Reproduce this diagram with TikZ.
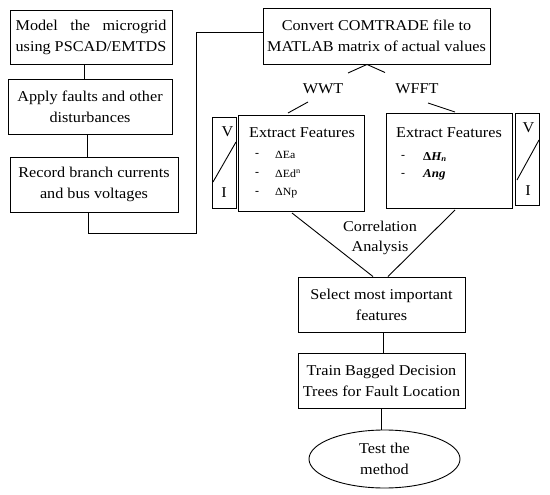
\documentclass[tikz,border=0pt]{standalone}
\usepackage{fontspec}
\setmainfont{Liberation Serif}[FakeStretch=1.08]
\usetikzlibrary{shapes.geometric}
\begin{document}
\begin{tikzpicture}[x=1pt,y=-1pt,
  box/.style={draw,line width=0.9pt,inner sep=0pt,align=center,font=\fontsize{15}{21}\selectfont},
  lbl/.style={inner sep=0pt,align=center,font=\fontsize{15}{20}\selectfont},
  item/.style={inner sep=0pt,anchor=west,font=\fontsize{11}{13}\selectfont},
  bitem/.style={inner sep=0pt,anchor=west,font=\fontsize{12}{14}\selectfont\bfseries},
  dsh/.style={inner sep=0pt,font=\fontsize{11}{13}\selectfont\bfseries},
  ln/.style={line width=0.9pt}]
\useasboundingbox (0,0) rectangle (550,495);
% left column
\node[box,minimum width=162pt,minimum height=54pt] (b1) at (91,37)
  {\setbox0=\hbox{using PSCAD/EMTDS}\makebox[\wd0][s]{Model the microgrid}\\using PSCAD/EMTDS};
\node[box,minimum width=164pt,minimum height=55pt] (b2) at (90,106.5) {Apply faults and other\\disturbances};
\node[box,minimum width=168pt,minimum height=55pt] (b3) at (94,184.5) {Record branch currents\\and bus voltages};
\node[box,minimum width=227pt,minimum height=56pt] (conv) at (376.5,36) {Convert COMTRADE file to\\MATLAB matrix of actual values};
\draw[ln] ([xshift=-7pt]b1.south) -- ([xshift=-7pt]b1.south |- b2.north);
\draw[ln] ([xshift=-3pt]b2.south) -- ([xshift=-3pt]b2.south |- b3.north);
\coordinate (bend) at (196,233);
\draw[ln] ([xshift=-6pt]b3.south) |- (bend) |- ([yshift=4pt]conv.west);
% branches
\node[lbl] (wwt) at (323,89) {WWT};
\node[lbl] (wfft) at (417,89) {WFFT};
\coordinate (apex) at ([xshift=-9.5pt]conv.south);
\coordinate (wa) at (348,73);
\coordinate (wb) at (385,72.5);
\draw[ln] (wa) -- (apex) -- (wb);
% extract boxes
\node[box,minimum width=24pt,minimum height=91pt] (vi1) at (224,162.5) {};
\node[box,minimum width=126pt,minimum height=96pt] (ex1) at (301,163) {};
\node[box,minimum width=126pt,minimum height=95pt] (ex2) at (449,160.5) {};
\node[box,minimum width=24pt,minimum height=92pt] (vi2) at (527,159) {};
\coordinate (wc) at (308,102); \coordinate (wd) at (288,113);
\coordinate (we) at (428,103); \coordinate (wf) at (455,112);
\draw[ln] (wc) -- (wd);
\draw[ln] (we) -- (wf);
\coordinate (d1a) at (213,182); \coordinate (d1b) at (236,142);
\coordinate (d2a) at (517,180); \coordinate (d2b) at (539,140);
\draw[ln] (d1a) -- (d1b);
\draw[ln] (d2a) -- (d2b);
\node[lbl] (v1) at (227.5,132) {V};
\node[lbl] (i1) at (224,193) {I};
\node[lbl] (v2) at (528.5,128) {V};
\node[lbl] (i2) at (528,191) {I};
\node[lbl] (t1) at (302,133) {Extract Features};
\node[lbl] (t2) at (449,133) {Extract Features};
\node[dsh] (k1) at (257,155) {-};
\node[dsh] (k2) at (257,173.5) {-};
\node[dsh] (k3) at (257,193) {-};
\node[item] (e1) at (275,155) {ΔEa};
\node[item] (e2) at (275,173.5) {ΔEd\textsuperscript{n}};
\node[item] (e3) at (275,193) {ΔNp};
\node[dsh] (k4) at (403,157) {-};
\node[dsh] (k5) at (403,175) {-};
\node[bitem] (h1) at (423,157) {Δ\itshape H\textsubscript{n}};
\node[bitem] (h2) at (423,175) {\itshape Ang};
% correlation
\node[box,minimum width=167pt,minimum height=55pt] (sel) at (381.5,304.5) {Select most important\\features};
\coordinate (ca) at (292,213); \coordinate (cb) at (455,210);
\draw[ln] (ca) -- ([xshift=-8.5pt]sel.north);
\draw[ln] ([xshift=6.5pt]sel.north) -- (cb);
\node[lbl] (corr) at (380,238) {Correlation\\Analysis};
\node[box,minimum width=167pt,minimum height=55pt] (train) at (381.5,380.5) {Train Bagged Decision\\Trees for Fault Location};
\node[box,ellipse,minimum width=151pt,minimum height=58pt] (test) at (384.5,459) {Test the\\method};
\draw[ln] ([xshift=1.5pt]sel.south) -- ([xshift=1.5pt]sel.south |- train.north);
\draw[ln] (train.south) -- (train.south |- test.north);
\end{tikzpicture}
\end{document}
